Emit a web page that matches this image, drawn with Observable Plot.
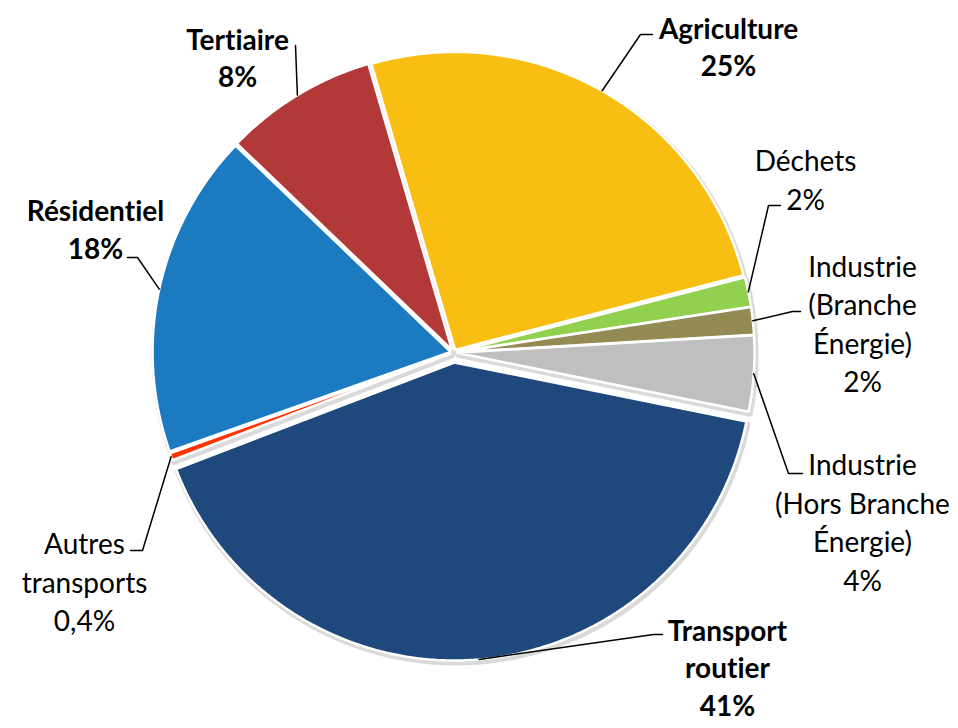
<!DOCTYPE html>
<html><head><meta charset="utf-8">
<script src="https://cdn.jsdelivr.net/npm/d3@7"></script>
<script src="https://cdn.jsdelivr.net/npm/@observablehq/plot@0.6"></script>
<style>body{margin:0;background:#fff} #chart{width:958px;height:728px;overflow:hidden} svg text{font-variant-ligatures:none;font-feature-settings:"liga" 0,"clig" 0}</style>
</head><body><div id="chart"></div>
<script>
// ---- data ----
const categories = ["Agriculture","Déchets","Industrie (Branche Énergie)","Industrie (Hors Branche Énergie)","Transport routier","Autres transports","Résidentiel","Tertiaire"];
const shares = [25.5, 1.6, 1.5, 4.1, 41.0, 0.4, 17.6, 8.3];
const pctLabels = ["25%","2%","2%","4%","41%","0,4%","18%","8%"];
const labelNames = ["Agriculture","Déchets","Industrie\n(Branche\nÉnergie)","Industrie\n(Hors Branche\nÉnergie)","Transport\nroutier","Autres\ntransports","Résidentiel","Tertiaire"];
const colors = ["#F9BE12","#92D050","#948A54","#BFBFBF","#1F497D","#FF3300","#1B7AC0","#B33939"];
const boldLabels = [true,false,false,false,true,false,true,true];

// ---- layout ----
const startAngle = -16.3; // degrees, clockwise from 12 o'clock
const explode = [3,3,3,3,10,3,3,3];
const R = 298;
// label layout relative to pie centre (px units, y up)
const labelElbow  = [[187,318],[315,147],[339,41],[335,-121],[200,-282],[-311,-198],[-316,95],[-158,307]];
const labelEnd    = [[199,318],[327,147],[347,41],[349,-121],[209,-282],[-323,-198],[-326,95],[-158,307]];
const labelCenter = [[275,307],[352,174.5],[409,30.5],[409,-168],[274,-314],[-369,-228],[-358,124.5],[-216,296]];

// ---- geometry from data ----
const total = d3.sum(shares);
const slicePts = [], leaders = [], labels = [];
let acc = startAngle * Math.PI / 180;
shares.forEach((v, i) => {
  const a0 = acc, a1 = acc + v / total * 2 * Math.PI; acc = a1;
  const mid = (a0 + a1) / 2;
  const ox = explode[i] * Math.sin(mid), oy = explode[i] * Math.cos(mid);
  const cat = categories[i];
  slicePts.push({cat, x: ox, y: oy});
  const n = Math.max(2, Math.ceil((a1 - a0) / (Math.PI / 360)));
  for (let k = 0; k <= n; k++) {
    const a = a0 + (a1 - a0) * k / n;
    slicePts.push({cat, x: ox + R * Math.sin(a), y: oy + R * Math.cos(a)});
  }
  leaders.push({cat, x: ox + R * Math.sin(mid), y: oy + R * Math.cos(mid)});
  leaders.push({cat, x: labelElbow[i][0], y: labelElbow[i][1]});
  leaders.push({cat, x: labelEnd[i][0], y: labelEnd[i][1]});
  labels.push({cat, x: labelCenter[i][0], y: labelCenter[i][1], text: labelNames[i] + "\n" + pctLabels[i], bold: boldLabels[i]});
});

const chart = Plot.plot({
  width: 958, height: 728, margin: 0,
  x: {domain: [-453, 505], axis: null},
  y: {domain: [-376, 352], axis: null},
  color: {domain: categories, range: colors},
  style: {fontFamily: "Lato, sans-serif", background: "white", overflow: "hidden"},
  marks: [
    Plot.line(slicePts, {x: "x", y: "y", z: "cat", fill: "#d4d4d4", stroke: "#dadada", strokeWidth: 5, curve: "linear-closed", dx: 1.5, dy: 2.5}),
    Plot.line(slicePts, {x: "x", y: "y", z: "cat", fill: "cat", stroke: "white", strokeWidth: 2.5, strokeLinejoin: "miter", curve: "linear-closed"}),
    Plot.line(leaders, {x: "x", y: "y", z: "cat", stroke: "black", strokeWidth: 1.5, strokeLinejoin: "miter"}),
    Plot.text(labels.filter(d => d.bold), {x: "x", y: "y", text: "text", fontSize: 28, fontWeight: "bold", lineHeight: 1.33, fill: "black"}),
    Plot.text(labels.filter(d => !d.bold), {x: "x", y: "y", text: "text", fontSize: 28, fontWeight: "normal", lineHeight: 1.375, fill: "black"})
  ]
});
document.getElementById("chart").appendChild(chart);
</script>
</body></html>
